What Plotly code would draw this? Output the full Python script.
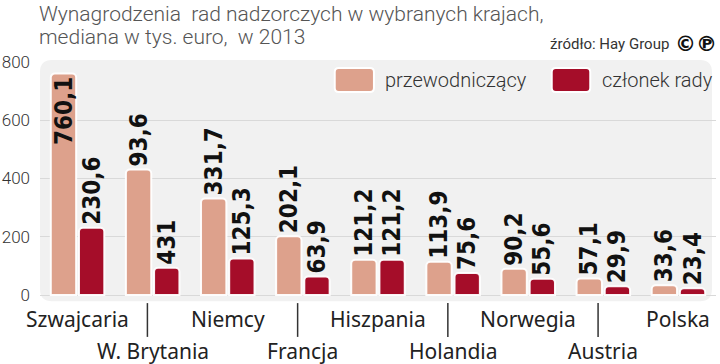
import plotly.graph_objects as go

countries = ["Szwajcaria", "W. Brytania", "Niemcy", "Francja", "Hiszpania",
             "Holandia", "Norwegia", "Austria", "Polska"]
przewodniczacy = [760.1, 431, 331.7, 202.1, 121.2, 113.9, 90.2, 57.1, 33.6]
czlonek = [230.6, 93.6, 125.3, 63.9, 121.2, 75.6, 55.6, 29.9, 23.4]
# value labels as printed in the source graphic
przew_labels = ["760,1", "93,6", "331,7", "202,1", "121,2", "113,9", "90,2", "57,1", "33,6"]
czlonek_labels = ["230,6", "431", "125,3", "63,9", "121,2", "75,6", "55,6", "29,9", "23,4"]
y_ticks = [0, 200, 400, 600, 800]

C_PRZEW = "#DDA18C"
C_CZL = "#A50D29"
LBL_FONT = dict(family="Liberation Sans Narrow, DejaVu Sans Condensed", size=24,
                color="#111111", weight="bold")
AX_FONT = dict(family="Noto Sans", size=21, color="#222222")
BARGAP = 0.25

x = list(range(len(countries)))
Y_MAX = 800
# labels that do not fit above the axis top are drawn inside the bar top
fits = [v < 700 for v in przewodniczacy]

fig = go.Figure()
fig.add_trace(go.Bar(
    x=x, y=przewodniczacy, name="przewodniczący",
    marker=dict(color=C_PRZEW, line=dict(color="rgba(255,255,255,0.95)", width=2), cornerradius=4),
    text=[t if f else "" for t, f in zip(przew_labels, fits)], textangle=-90, constraintext="none",
    textposition="outside", textfont=LBL_FONT, outsidetextfont=LBL_FONT,
    cliponaxis=False, showlegend=False,
))
fig.add_trace(go.Bar(
    x=x, y=czlonek, name="członek rady",
    marker=dict(color=C_CZL, line=dict(color="rgba(255,255,255,0.95)", width=2), cornerradius=4),
    text=czlonek_labels, textangle=-90, textposition="outside", constraintext="none",
    textfont=LBL_FONT, outsidetextfont=LBL_FONT,
    cliponaxis=False, showlegend=False,
))

# rounded rectangle path in paper coords (aspect-corrected radius)
PW, PH = 676.0, 238.0
def rrect(x0, y0, x1, y1, rpx):
    rx, ry = rpx / PW, rpx / PH
    return (f"M{x0+rx},{y0} L{x1-rx},{y0} Q{x1},{y0} {x1},{y0+ry} L{x1},{y1-ry} Q{x1},{y1} {x1-rx},{y1} "
            f"L{x0+rx},{y1} Q{x0},{y1} {x0},{y1-ry} L{x0},{y0+ry} Q{x0},{y0} {x0+rx},{y0} Z")

shapes = [dict(type="path", xref="paper", yref="paper", layer="below",
               path=rrect(0.0, -0.005, 0.994, 1.008, 12),
               fillcolor="#F1F1F1", line=dict(width=0))]

annotations = []
# inside labels for bars whose label would not fit above
bar_off = (1 - BARGAP) / 4
for i, (v, t, f) in enumerate(zip(przewodniczacy, przew_labels, fits)):
    if not f:
        annotations.append(dict(xref="x", yref="y", x=i - bar_off, y=v, text=t, textangle=-90,
                                showarrow=False, xanchor="center", yanchor="top", yshift=-1,
                                font=LBL_FONT))

# category labels in two staggered rows with separators
for i, c in enumerate(countries):
    if i % 2 == 0:
        annotations.append(dict(xref="x", yref="paper", x=i, y=-0.080, text=c, showarrow=False,
                                xanchor="center", yanchor="middle", font=AX_FONT))
    else:
        annotations.append(dict(xref="x", yref="paper", x=i, y=-0.214, text=c, showarrow=False,
                                xanchor="center", yanchor="middle", font=AX_FONT))
        shapes.append(dict(type="line", xref="x", yref="paper", x0=i - 0.07, x1=i - 0.07,
                           y0=-0.013, y1=-0.155, line=dict(color="#333333", width=1.5)))

# custom legend
legend_items = [(C_PRZEW, "przewodniczący", 0.436, 0.494), (C_CZL, "członek rady", 0.757, 0.814)]
for col, name, bx0, bx1 in legend_items:
    shapes.append(dict(type="path", xref="paper", yref="paper",
                       path=rrect(bx0, 0.874, bx1, 0.975, 4),
                       fillcolor=col, line=dict(color="white", width=2)))
    annotations.append(dict(xref="paper", yref="paper", x=bx1 + 0.014, y=0.926, text=name,
                            showarrow=False, xanchor="left", yanchor="middle",
                            font=dict(family="Roboto", size=20, color="#333333", weight=300)))

# title
TITLE_FONT = dict(family="Roboto", size=21, color="#555555", weight=300)
annotations.append(dict(xref="paper", yref="paper", x=-0.005, y=1.203,
                        text="Wynagrodzenia  rad nadzorczych w wybranych krajach,",
                        showarrow=False, xanchor="left", yanchor="middle", font=TITLE_FONT))
annotations.append(dict(xref="paper", yref="paper", x=-0.005, y=1.105,
                        text="mediana w tys. euro,  w 2013",
                        showarrow=False, xanchor="left", yanchor="middle", font=TITLE_FONT))
# source
annotations.append(dict(xref="paper", yref="paper", x=0.934, y=1.076, text="źródło: Hay Group",
                        showarrow=False, xanchor="right", yanchor="middle",
                        font=dict(family="Roboto", size=15, color="#333333")))
annotations.append(dict(xref="paper", yref="paper", x=0.937, y=1.076, text="©℗",
                        showarrow=False, xanchor="left", yanchor="middle",
                        font=dict(family="DejaVu Sans", size=21, color="#111111", weight="bold")))

fig.update_layout(
    width=720, height=364,
    margin=dict(l=40, r=4, t=62, b=64, autoexpand=False),
    paper_bgcolor="white", plot_bgcolor="rgba(0,0,0,0)",
    barmode="group", bargap=BARGAP, bargroupgap=0.1,
    shapes=shapes, annotations=annotations,
)
fig.update_xaxes(range=[-0.5, 8.5], showticklabels=False, automargin=False,
                 showgrid=False, zeroline=False, showline=False, ticks="")
fig.update_yaxes(range=[-17, Y_MAX], tickvals=y_ticks, showgrid=True, gridcolor="#D9D9D9",
                 gridwidth=1, zeroline=False, showline=False, automargin=False,
                 ticklabelstandoff=9,
                 tickfont=dict(family="Roboto", size=17, color="#333333", weight=300))

fig.write_html("out.html", config={"displayModeBar": False},
               post_script="document.body.style.margin='0';")
